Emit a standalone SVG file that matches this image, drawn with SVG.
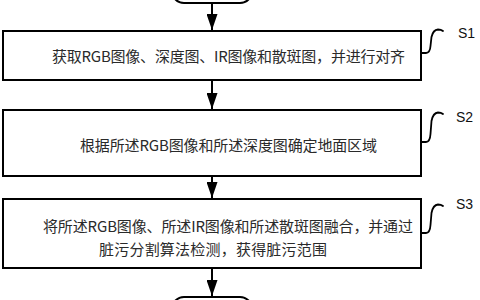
<svg xmlns="http://www.w3.org/2000/svg" width="480" height="300" viewBox="0 0 480 300">
  <style>
    .box { fill: #ffffff; stroke: #000000; stroke-width: 2; }
    .term { fill: #ffffff; stroke: #000000; stroke-width: 2; }
    .conn { fill: none; stroke: #000000; stroke-width: 2; }
    .lead { fill: none; stroke: #000000; stroke-width: 1.8; stroke-linecap: round; }
    .txt { font-family: "Noto Sans CJK SC", "Liberation Serif", serif; font-size: 15px; fill: #2a2a2a; }
    .lbl { font-family: "Liberation Sans", Arial, sans-serif; font-size: 14px; fill: #111111; }
  </style>
  <defs>
    <marker id="arrow" viewBox="0 0 16 11" refX="16" refY="5.5" markerWidth="16" markerHeight="11" markerUnits="userSpaceOnUse" orient="auto">
      <path d="M0,0 L16,5.5 L0,11 z" fill="#000000"/>
    </marker>
  </defs>
  <rect width="480" height="300" fill="#ffffff"/>

  <g id="start">
    <rect class="term" x="172" y="-30" width="80" height="33" rx="12"/>
  </g>

  <g id="s1">
    <rect class="box" x="3" y="31" width="418" height="49"/>
    <text class="txt" x="52" y="62" textLength="353" lengthAdjust="spacing">获取RGB图像、深度图、IR图像和散斑图，并进行对齐</text>
    <path class="lead" d="M421,53 L426,53 Q430,53 430.5,46 L431.5,37 Q433,30 438,29.5 Q441,29.5 443,31"/>
    <text class="lbl" x="458" y="37.5">S1</text>
  </g>

  <g id="s2">
    <rect class="box" x="3" y="110" width="418" height="66"/>
    <text class="txt" x="80" y="150.5" textLength="297" lengthAdjust="spacing">根据所述RGB图像和所述深度图确定地面区域</text>
    <path class="lead" d="M421,142 L426,142 Q430,142 430.5,134 L431.5,121 Q433,113 438,112.5 Q441,112.5 443,114"/>
    <text class="lbl" x="456" y="121.5">S2</text>
  </g>

  <g id="s3">
    <rect class="box" x="3" y="199" width="418" height="69"/>
    <text class="txt" x="43" y="231.5" textLength="370" lengthAdjust="spacing">将所述RGB图像、所述IR图像和所述散斑图融合，并通过</text>
    <text class="txt" x="99" y="254.5" textLength="228" lengthAdjust="spacing">脏污分割算法检测，获得脏污范围</text>
    <path class="lead" d="M421,233 L426,233 Q430,233 430.5,225 L431.5,213 Q433,205 438,204.5 Q441,204.5 443,206"/>
    <text class="lbl" x="456" y="208.5">S3</text>
  </g>

  <g id="end">
    <rect class="term" x="172" y="297" width="80" height="33" rx="12"/>
  </g>

  <g id="connectors">
    <line class="conn" x1="212" y1="3" x2="212" y2="30" marker-end="url(#arrow)"/>
    <line class="conn" x1="212" y1="80" x2="212" y2="109" marker-end="url(#arrow)"/>
    <line class="conn" x1="212" y1="176" x2="212" y2="198" marker-end="url(#arrow)"/>
    <line class="conn" x1="212" y1="268" x2="212" y2="296" marker-end="url(#arrow)"/>
  </g>
</svg>
